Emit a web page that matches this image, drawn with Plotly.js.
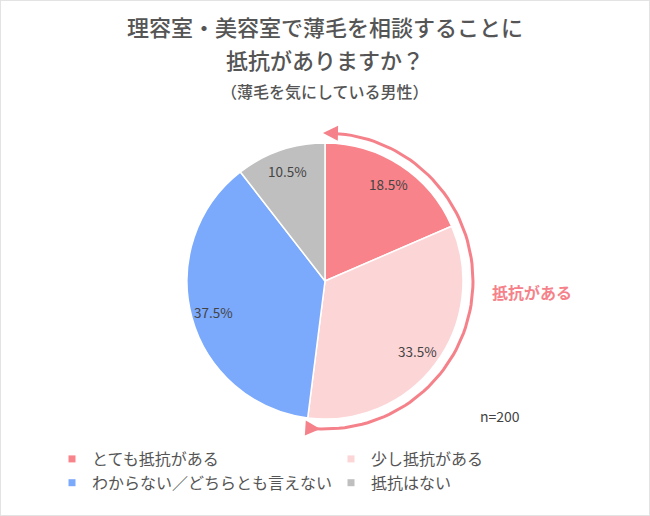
<!DOCTYPE html>
<html>
<head>
<meta charset="utf-8">
<script src="https://cdn.plot.ly/plotly-3.0.1.min.js"></script>
<style>
  html, body { margin: 0; padding: 0; background: #fff; }
  #plot-area { width: 650px; height: 516px; }
</style>
</head>
<body>
<div id="plot-area"></div>
<script>
// --- データ ---
const categories = ['とても抵抗がある', '少し抵抗がある', 'わからない／どちらとも言えない', '抵抗はない'];
const shares = [18.5, 33.5, 37.5, 10.5];
const sliceColors = ['#f8838a', '#fcd5d7', '#7ba9fc', '#bfbfbf'];
const titleLines = ['理容室・美容室で薄毛を相談することに', '抵抗がありますか？'];
const subtitle = '（薄毛を気にしている男性）';
const bracketLabel = '抵抗がある';
const sampleNote = 'n=200';

const W = 650, H = 516;
const FONT = '"Noto Sans CJK JP", "Noto Sans", sans-serif';

// 円の位置（ピクセル）
const cx = 325, cy = 281, r = 138;
const arcR = 148;
const pink = '#f5828a';

// --- 「抵抗がある」の弧 ---
// 上2つのスライスの合計に合わせて弧の角度を決める
const arcShare = (shares[0] + shares[1]) / 100;
const arcStart = 0.02;
const arcEnd = arcShare * 2 * Math.PI - 0.06;
const arcX = [], arcY = [];
for (let k = 0; k <= 80; k++) {
    const a = arcStart + (arcEnd - arcStart) * k / 80;
    arcX.push(cx + arcR * Math.sin(a));
    arcY.push(cy - arcR * Math.cos(a));
}

const data = [
    {
        type: 'pie',
        labels: categories,
        values: shares,
        sort: false,
        direction: 'clockwise',
        rotation: 0,
        marker: { colors: sliceColors, line: { color: '#ffffff', width: 1.5 } },
        textinfo: 'none',
        hoverinfo: 'none',
        showlegend: false,
        domain: {
            x: [(cx - r) / W, (cx + r) / W],
            y: [(H - cy - r) / H, (H - cy + r) / H]
        }
    },
    {
        type: 'scatter',
        mode: 'lines',
        x: arcX,
        y: arcY,
        line: { color: pink, width: 3 },
        hoverinfo: 'none',
        showlegend: false
    }
];

// 凡例用（小さい四角のマーカー）
categories.forEach((c, i) => {
    data.push({
        type: 'scatter',
        mode: 'markers',
        x: [null], y: [null],
        name: c,
        marker: { symbol: 'square', size: 7, color: sliceColors[i] },
        hoverinfo: 'none'
    });
});

const annotations = [];

// --- パーセント表示（各スライスの中央角、半径の0.84倍）---
let cum = 0;
shares.forEach(v => {
    const mid = (cum + v / 2) / 100 * 2 * Math.PI;
    cum += v;
    annotations.push({
        xref: 'x', yref: 'y',
        x: cx + r * 0.84 * Math.sin(mid),
        y: cy - r * 0.84 * Math.cos(mid),
        text: v.toFixed(1) + '%', showarrow: false,
        font: { family: FONT, size: 13.5, color: '#444444' },
        xanchor: 'center', yanchor: 'middle'
    });
});

// タイトル
const titleY = [26, 59];
titleLines.forEach((t, i) => {
    annotations.push({
        xref: 'x', yref: 'y', x: W / 2, y: titleY[i],
        text: t, showarrow: false,
        font: { family: FONT, size: 22, color: '#555555', weight: 500 },
        xanchor: 'center', yanchor: 'middle'
    });
});
annotations.push({
    xref: 'x', yref: 'y', x: W / 2, y: 91,
    text: subtitle, showarrow: false,
    font: { family: FONT, size: 16, color: '#555555', weight: 500 },
    xanchor: 'center', yanchor: 'middle'
});

// 弧の両端の矢印
const headLen = 10;
[arcStart, arcEnd].forEach(a => {
    // 反時計回り方向（矢印の向き）
    const tx = -Math.cos(a), ty = -Math.sin(a);
    const px = cx + arcR * Math.sin(a);
    const py = cy - arcR * Math.cos(a);
    annotations.push({
        xref: 'x', yref: 'y',
        x: px + tx * 5, y: py + ty * 5,
        ax: -tx * headLen, ay: -ty * headLen,
        showarrow: true, arrowhead: 2, arrowsize: 1, arrowwidth: 3,
        arrowcolor: pink, text: ''
    });
});

annotations.push({
    xref: 'x', yref: 'y', x: 532, y: 292,
    text: '<b>' + bracketLabel + '</b>', showarrow: false,
    font: { family: FONT, size: 16, color: pink },
    xanchor: 'center', yanchor: 'middle'
});
annotations.push({
    xref: 'x', yref: 'y', x: 500, y: 416,
    text: sampleNote, showarrow: false,
    font: { family: FONT, size: 14, color: '#444444' },
    xanchor: 'center', yanchor: 'middle'
});

const layout = {
    width: W,
    height: H,
    margin: { l: 0, r: 0, t: 0, b: 0 },
    paper_bgcolor: '#ffffff',
    plot_bgcolor: 'rgba(0,0,0,0)',
    xaxis: { range: [0, W], visible: false, fixedrange: true },
    yaxis: { range: [H, 0], visible: false, fixedrange: true },
    showlegend: true,
    legend: {
        orientation: 'h',
        x: 52 / W, xanchor: 'left',
        y: 1 - 442 / H, yanchor: 'top',
        entrywidth: 234, entrywidthmode: 'pixels',
        traceorder: 'normal',
        font: { family: FONT, size: 16, color: '#555555' },
        itemclick: false
    },
    annotations: annotations,
    shapes: [{
        type: 'rect', xref: 'paper', yref: 'paper',
        x0: 0, y0: 0, x1: 1, y1: 1,
        line: { color: '#e3e3e3', width: 2 }
    }]
};

Plotly.newPlot('plot-area', data, layout, { displayModeBar: false, staticPlot: true });
</script>
</body>
</html>
